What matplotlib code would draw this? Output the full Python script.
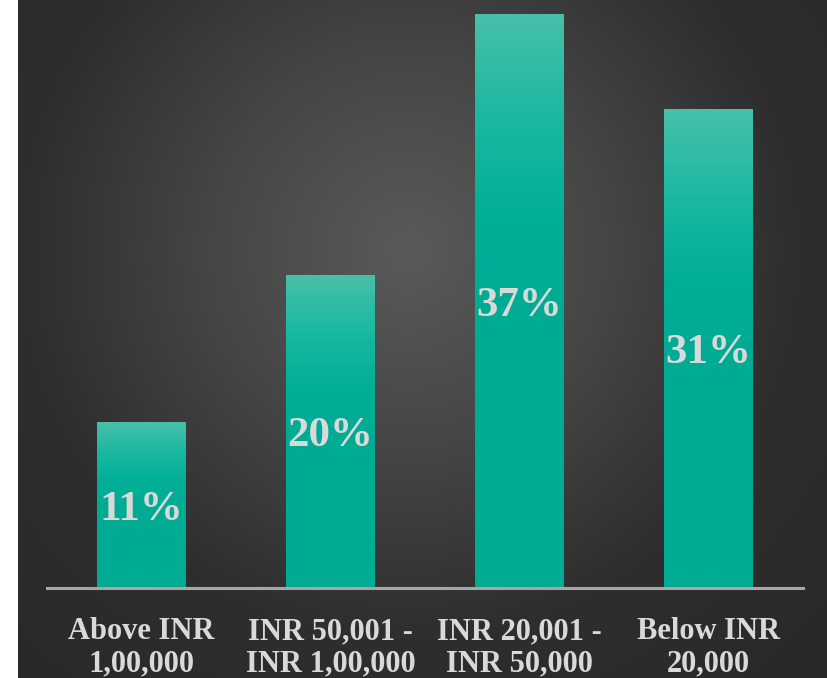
import numpy as np
import matplotlib
matplotlib.use("Agg")
import matplotlib.pyplot as plt
from matplotlib.colors import LinearSegmentedColormap

categories = ["Above INR\n1,00,000", "INR 50,001 -\nINR 1,00,000", "INR 20,001 -\nINR 50,000", "Below INR\n20,000"]
values = [10.7, 20.2, 37.0, 30.9]
labels = ["11%", "20%", "37%", "31%"]

SERIF = ["Liberation Serif", "DejaVu Serif"]

W, H = 828, 678
fig = plt.figure(figsize=(W / 100, H / 100), dpi=100, facecolor="white")

# background with radial gradient
bg = fig.add_axes([18 / W, 0, (W - 18) / W, 1])
bg.set_axis_off()
yy, xx = np.mgrid[0:H, 0:W - 18]
cx, cy = 390, 250
r = np.sqrt((xx - cx) ** 2 + (yy - cy) ** 2) / 580.0
r = np.clip(r, 0, 1)
bgcmap = LinearSegmentedColormap.from_list("bg", ["#5a5a5a", "#464646", "#2e2e2e", "#292929"])
bg.imshow(r, cmap=bgcmap, aspect="auto", extent=[0, 1, 0, 1], origin="upper", vmin=0, vmax=1)
bg.set_xlim(0, 1)
bg.set_ylim(0, 1)

ax = fig.add_axes([47 / W, (H - 588) / H, 756 / W, 588 / H])
ax.patch.set_alpha(0)
ax.set_xlim(-0.5, 3.5)
ax.set_ylim(0, 37.9)

bars = ax.bar(range(len(values)), values, width=0.466, color="#00ad95", zorder=2)
barcmap = LinearSegmentedColormap.from_list("bar", ["#00ab94", "#00ae96", "#1bb8a0", "#48c0aa"])
grad = np.linspace(0, 1, 256).reshape(-1, 1)
grad = np.clip((grad - 0.45) / 0.55, 0, 1)
for b in bars:
    x0, y0 = b.get_x(), b.get_y()
    w, h = b.get_width(), b.get_height()
    im = ax.imshow(grad, cmap=barcmap, aspect="auto", extent=[x0, x0 + w, y0, y0 + h],
                   origin="lower", zorder=3, vmin=0, vmax=1)
    im.set_clip_path(b)

for i, (v, t) in enumerate(zip(values, labels)):
    ax.annotate(t, xy=(i, v / 2), xytext=(0, -3.5), textcoords="offset points",
                ha="center", va="center", fontsize=31, fontweight="bold",
                family=SERIF, color="#d9d9d9", zorder=5)

for s in ["top", "right", "left"]:
    ax.spines[s].set_visible(False)
ax.spines["bottom"].set_color("#a6a6a6")
ax.spines["bottom"].set_linewidth(2.2)
ax.spines["bottom"].set_zorder(4)
ax.set_yticks([])
ax.set_xticks(range(len(categories)))
ax.set_xticklabels(categories, fontsize=22, fontweight="bold", family=SERIF,
                   color="#d9d9d9", linespacing=1.15)
ax.tick_params(axis="x", length=0, pad=21)

fig.savefig("out.png", dpi=100, facecolor="white")
